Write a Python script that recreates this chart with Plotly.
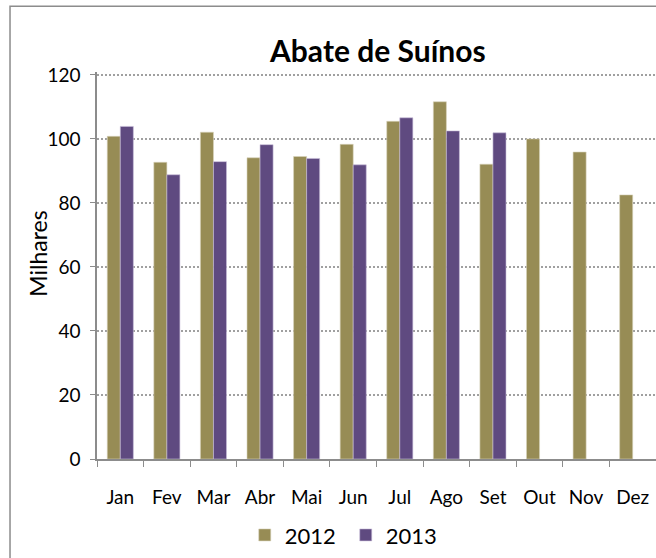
import plotly.graph_objects as go

meses = ["Jan", "Fev", "Mar", "Abr", "Mai", "Jun", "Jul", "Ago", "Set", "Out", "Nov", "Dez"]
abate_2012 = [100.8, 92.7, 102.1, 94.1, 94.5, 98.3, 105.5, 111.6, 92.1, 100.0, 95.9, 82.5]
abate_2013 = [103.9, 88.8, 92.9, 98.2, 93.9, 91.9, 106.6, 102.5, 101.9]

fonte = "Lato, Calibri, sans-serif"

fig = go.Figure()
fig.add_trace(go.Bar(x=meses, y=abate_2012, name="2012",
                     marker=dict(color="#978C55", line=dict(color="#d8d4bc", width=0.6))))
fig.add_trace(go.Bar(x=meses[:len(abate_2013)], y=abate_2013, name="2013",
                     marker=dict(color="#5F4A80", line=dict(color="#c9c0da", width=0.6))))

fig.update_layout(
    width=656, height=558,
    margin=dict(l=97, r=0, t=72, b=99),
    paper_bgcolor="white", plot_bgcolor="white",
    barmode="group", bargap=0.44, bargroupgap=0,
    font=dict(family=fonte, size=19, color="black"),
    title=dict(text="<b>Abate de Suínos</b>", x=0.576, xanchor="center",
               y=0.907, yanchor="middle", font=dict(family=fonte, size=30)),
    legend=dict(orientation="h", x=0.445, xanchor="center", y=0.041, yref="container",
                yanchor="middle", font=dict(size=22), itemwidth=30, traceorder="normal",
                entrywidth=56),
    showlegend=True,
)
fig.update_xaxes(
    type="category", range=[-0.5, 11.5],
    showline=True, linecolor="#8c8c8c", linewidth=1.5,
    ticks="outside", tickson="boundaries", ticklen=6, tickcolor="#8c8c8c",
    ticklabelstandoff=20, showgrid=False,
)
fig.update_yaxes(
    range=[0, 120.9], tickvals=[0, 20, 40, 60, 80, 100, 120],
    showline=True, linecolor="#8c8c8c", linewidth=1.5,
    ticks="outside", ticklen=5, tickcolor="#8c8c8c", ticklabelstandoff=6,
    showgrid=True, gridcolor="#a0a0a0", griddash="1.5px,2.5px", gridwidth=1.5,
    zeroline=False,
)
fig.add_annotation(text="Milhares", xref="paper", yref="paper", x=-0.107, y=0.531,
                   textangle=-90, showarrow=False, font=dict(size=23),
                   xanchor="center", yanchor="middle")
fig.add_shape(type="rect", xref="paper", yref="paper",
              x0=-0.1556, x1=1.05, y0=-0.35, y1=1.17,
              line=dict(color="#8c8c8c", width=1.5), layer="below")

fig.write_html("out.html", config={"displayModeBar": False},
               post_script="document.body.style.margin='0';document.body.style.overflow='hidden';")
